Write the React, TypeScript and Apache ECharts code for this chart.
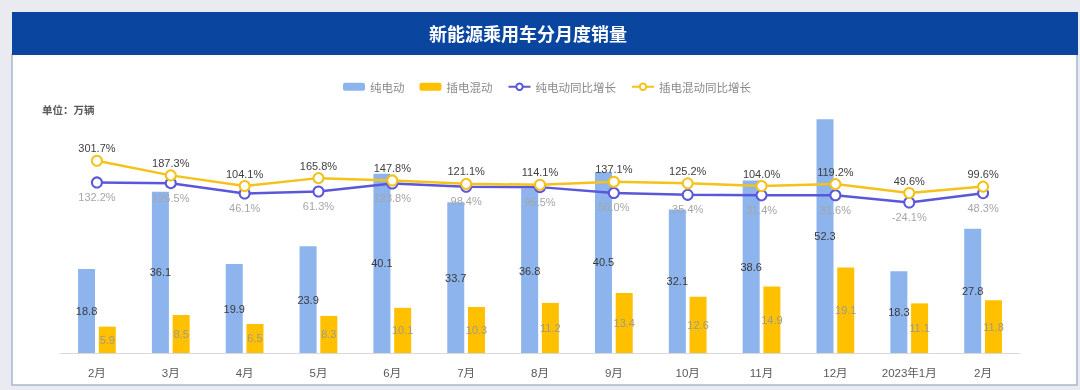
import React, { useEffect, useRef } from "react";
import * as echarts from "echarts";

const categories = ["2月", "3月", "4月", "5月", "6月", "7月", "8月", "9月", "10月", "11月", "12月", "2023年1月", "2月"];
const bevSales = [18.8, 36.1, 19.9, 23.9, 40.1, 33.7, 36.8, 40.5, 32.1, 38.6, 52.3, 18.3, 27.8];
const phevSales = [5.9, 8.5, 6.5, 8.3, 10.1, 10.3, 11.2, 13.4, 12.6, 14.9, 19.1, 11.1, 11.8];
const bevYoY = [132.2, 126.5, 46.1, 61.3, 123.8, 98.4, 95.5, 50.0, 35.4, 31.4, 31.6, -24.1, 48.3];
const phevYoY = [301.7, 187.3, 104.1, 165.8, 147.8, 121.1, 114.1, 137.1, 125.2, 104.0, 119.2, 49.6, 99.6];

const seriesNames = ["纯电动", "插电混动", "纯电动同比增长", "插电混动同比增长"];
const titleText = "新能源乘用车分月度销量";
const unitText = "单位：万辆";

const FONT = "'Liberation Sans', 'Noto Sans CJK SC', sans-serif";

export default function App() {
  const ref = useRef<HTMLDivElement>(null);

  useEffect(() => {
    if (!ref.current) return;
    const chart = echarts.init(ref.current, undefined, { renderer: "svg" });
    const pct = (p: any) => Number(p.value).toFixed(1) + "%";
    chart.setOption({
      animation: false,
      textStyle: { fontFamily: FONT },
      graphic: [
        { type: "rect", silent: true, z: -10, shape: { x: 0, y: 0, width: 1080, height: 390 }, style: { fill: "#e9ebf1" } },
        { type: "rect", silent: true, z: -9, shape: { x: 12, y: 54, width: 1065, height: 331 }, style: { fill: "#ffffff", stroke: "#a8b6cc", lineWidth: 1.5 } },
        { type: "rect", silent: true, z: -8, shape: { x: 12, y: 12, width: 1066, height: 43 }, style: { fill: "#0a45a0" } },
        {
          type: "text", silent: true, z: -7, x: 528, y: 33,
          style: { text: titleText, fill: "#ffffff", font: "bold 18px 'Noto Sans CJK SC', sans-serif", textAlign: "center", textVerticalAlign: "middle" },
        },
        {
          type: "text", silent: true, z: -7, x: 42, y: 109,
          style: { text: unitText, fill: "#595959", font: "bold 10.5px 'Noto Sans CJK SC', sans-serif", textAlign: "left", textVerticalAlign: "middle" },
        },
      ],
      legend: {
        data: seriesNames,
        left: 338,
        top: 76,
        itemGap: 15,
        itemWidth: 22,
        itemHeight: 8,
        textStyle: { color: "#8a8a8a", fontSize: 11.5, fontFamily: "'Noto Sans CJK SC', sans-serif" },
      },
      grid: { left: 60, right: 60, top: 100, bottom: 37, containLabel: false },
      xAxis: {
        type: "category",
        data: categories,
        axisLine: { show: true, lineStyle: { color: "#d9d9d9", width: 1 } },
        axisTick: { show: false },
        axisLabel: { color: "#595959", fontSize: 11.5, margin: 14, interval: 0 },
      },
      yAxis: [
        { type: "value", min: 0, max: 56.6, show: false, splitLine: { show: false } },
        { type: "value", min: -1200, max: 776, show: false, splitLine: { show: false } },
      ],
      series: [
        {
          name: seriesNames[0],
          type: "bar",
          data: bevSales,
          barWidth: 17,
          barGap: "22%",
          itemStyle: { color: "#8db4ec" },
          label: { show: true, position: "inside", color: "#3a3a3a", fontSize: 11 },
          z: 2,
        },
        {
          name: seriesNames[1],
          type: "bar",
          data: phevSales,
          barWidth: 17,
          itemStyle: { color: "#ffc000" },
          label: { show: true, position: "inside", color: "#a09a8a", fontSize: 11 },
          z: 2,
        },
        {
          name: seriesNames[2],
          type: "line",
          yAxisIndex: 1,
          data: bevYoY,
          symbol: "emptyCircle",
          symbolSize: 10,
          lineStyle: { color: "#5b57da", width: 2.5 },
          itemStyle: { color: "#5b57da", borderWidth: 2 },
          label: { show: true, position: "bottom", distance: 3, color: "#a6a6a6", fontSize: 11, formatter: pct },
          z: 3,
        },
        {
          name: seriesNames[3],
          type: "line",
          yAxisIndex: 1,
          data: phevYoY,
          symbol: "emptyCircle",
          symbolSize: 10,
          lineStyle: { color: "#f4c21a", width: 2.5 },
          itemStyle: { color: "#f4c21a", borderWidth: 2 },
          label: { show: true, position: "top", distance: 1, color: "#404040", fontSize: 11, formatter: pct },
          z: 4,
        },
      ],
    });
    return () => chart.dispose();
  }, []);

  return (
    <div
      ref={ref}
      style={{ position: "fixed", left: 0, top: 0, width: 1080, height: 390 }}
    />
  );
}
